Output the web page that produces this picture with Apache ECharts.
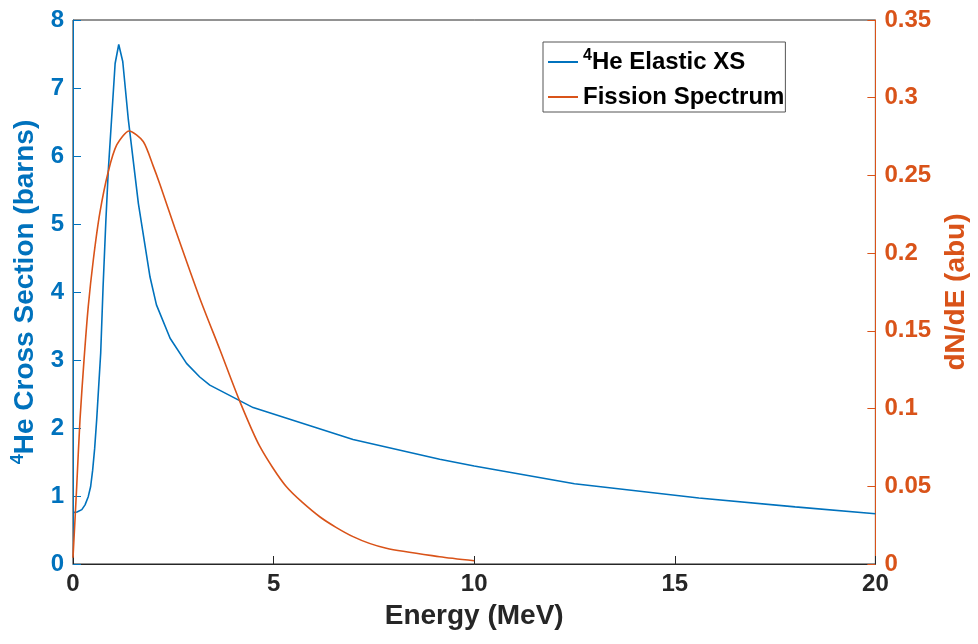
<!DOCTYPE html>
<html>
<head>
<meta charset="utf-8">
<title>He-4 elastic XS vs fission spectrum</title>
<script src="https://cdn.jsdelivr.net/npm/echarts@6/dist/echarts.min.js"></script>
<style>
  html, body { margin: 0; padding: 0; background: #fff; }
  #chart { width: 978px; height: 644px; }
</style>
</head>
<body>
<div id="chart"></div>
<script>
// energy (MeV) / cross section (barns)
var xsEnergy = [0, 0.1, 0.22, 0.3, 0.38, 0.44, 0.49, 0.54, 0.59, 0.69, 0.75, 0.82, 0.88, 0.96, 1.05, 1.14, 1.24, 1.38, 1.63, 1.92, 2.08, 2.42, 2.83, 3.16, 3.41, 4.49, 6.98, 9.14, 10.0, 12.5, 15.6, 18.0, 20.0];
var xsValue  = [0.755, 0.765, 0.8, 0.87, 0.99, 1.14, 1.38, 1.7, 2.12, 3.1, 4.08, 5.06, 5.79, 6.53, 7.36, 7.64, 7.39, 6.53, 5.3, 4.22, 3.81, 3.32, 2.95, 2.75, 2.63, 2.3, 1.83, 1.54, 1.44, 1.18, 0.97, 0.84, 0.74];

// energy (MeV) / dN/dE, fission spectrum
var fsEnergy = [0, 0.092, 0.174, 0.274, 0.38, 0.506, 0.67, 0.88, 1.09, 1.4, 1.75, 2.0, 2.17, 2.54, 3.16, 3.66, 4.16, 4.66, 5.32, 6.15, 6.98, 7.81, 9.14, 10.0];
var fsValue  = [0.004, 0.0497, 0.0927, 0.131, 0.1656, 0.1956, 0.226, 0.2525, 0.2696, 0.2786, 0.2718, 0.256, 0.244, 0.216, 0.171, 0.138, 0.1045, 0.0755, 0.0497, 0.0304, 0.0176, 0.0101, 0.0047, 0.0021];

var xTicks = [0, 5, 10, 15, 20];

var blue = '#0072BD';
var orange = '#D95319';
var dark = '#262626';
var font = '"Liberation Sans", Arial, Helvetica, sans-serif';

function pairs(xs, ys) {
    var out = [];
    for (var i = 0; i < xs.length; i++) {
        out.push([xs[i], ys[i]]);
    }
    return out;
}

var chart = echarts.init(document.getElementById('chart'));

var option = {
    backgroundColor: '#fff',
    animation: false,
    textStyle: { fontFamily: font },
    grid: {
        left: 73, right: 102, top: 20, bottom: 80,
        show: true, borderColor: dark, borderWidth: 1
    },
    legend: {
        orient: 'vertical',
        left: 543, top: 42,
        padding: [6, 1, 3, 5],
        itemGap: 11,
        itemWidth: 30,
        itemHeight: 2,
        icon: 'rect',
        backgroundColor: '#fff',
        borderColor: '#555',
        borderWidth: 1,
        borderRadius: 0,
        data: ['He Elastic XS', 'Fission Spectrum'],
        formatter: function(name) {
            if (name === 'He Elastic XS') {
                return '{sup|4}{t|He Elastic XS}';
            }
            return '{t|' + name + '}';
        },
        textStyle: {
            rich: {
                t: { fontSize: 24, fontWeight: 'bold', color: '#000', fontFamily: font, lineHeight: 28 },
                sup: { fontSize: 16, fontWeight: 'bold', color: '#000', fontFamily: font, verticalAlign: 'top', lineHeight: 16 }
            }
        }
    },
    xAxis: {
        type: 'value',
        min: 0, max: 20, interval: 5,
        name: 'Energy (MeV)',
        nameLocation: 'middle',
        nameGap: 38,
        nameTextStyle: { fontSize: 28, fontWeight: 'bold', color: dark, fontFamily: font },
        axisLine: { lineStyle: { color: dark, width: 1 } },
        axisTick: { inside: true, length: 8, lineStyle: { color: dark } },
        axisLabel: {
            margin: 8, fontSize: 24, fontWeight: 'bold', color: dark, fontFamily: font,
            formatter: function(v) { return xTicks.indexOf(v) >= 0 ? String(v) : ''; }
        },
        splitLine: { show: false }
    },
    yAxis: [
        {
            type: 'value',
            position: 'left',
            min: 0, max: 8, interval: 1,
            name: '{sup|4}{t|He Cross Section (barns)}',
            nameLocation: 'middle',
            nameRotate: 90,
            nameGap: 32,
            nameTextStyle: {
                rich: {
                    t: { fontSize: 28, fontWeight: 'bold', color: blue, fontFamily: font, lineHeight: 32 },
                    sup: { fontSize: 18, fontWeight: 'bold', color: blue, fontFamily: font, verticalAlign: 'top', lineHeight: 18 }
                }
            },
            axisLine: { show: true, lineStyle: { color: blue, width: 1 } },
            axisTick: { show: true, inside: true, length: 8, lineStyle: { color: blue } },
            axisLabel: { margin: 9, fontSize: 24, fontWeight: 'bold', color: blue, fontFamily: font },
            splitLine: { show: false }
        },
        {
            type: 'value',
            position: 'right',
            min: 0, max: 0.35, interval: 0.05,
            name: 'dN/dE (abu)',
            nameLocation: 'middle',
            nameRotate: 90,
            nameGap: 66,
            nameTextStyle: { fontSize: 28, fontWeight: 'bold', color: orange, fontFamily: font },
            axisLine: { show: true, lineStyle: { color: orange, width: 1 } },
            axisTick: { show: true, inside: true, length: 8, lineStyle: { color: orange } },
            axisLabel: {
                margin: 9, fontSize: 24, fontWeight: 'bold', color: orange, fontFamily: font,
                formatter: function(v) { return String(parseFloat(v.toFixed(2))); }
            },
            splitLine: { show: false }
        }
    ],
    series: [
        {
            name: 'He Elastic XS',
            type: 'line',
            yAxisIndex: 0,
            symbol: 'none',
            data: pairs(xsEnergy, xsValue),
            lineStyle: { color: blue, width: 1.6 },
            itemStyle: { color: blue }
        },
        {
            name: 'Fission Spectrum',
            type: 'line',
            yAxisIndex: 1,
            symbol: 'none',
            smooth: 0.25,
            data: pairs(fsEnergy, fsValue),
            lineStyle: { color: orange, width: 1.6 },
            itemStyle: { color: orange }
        }
    ]
};

chart.setOption(option);
</script>
</body>
</html>
